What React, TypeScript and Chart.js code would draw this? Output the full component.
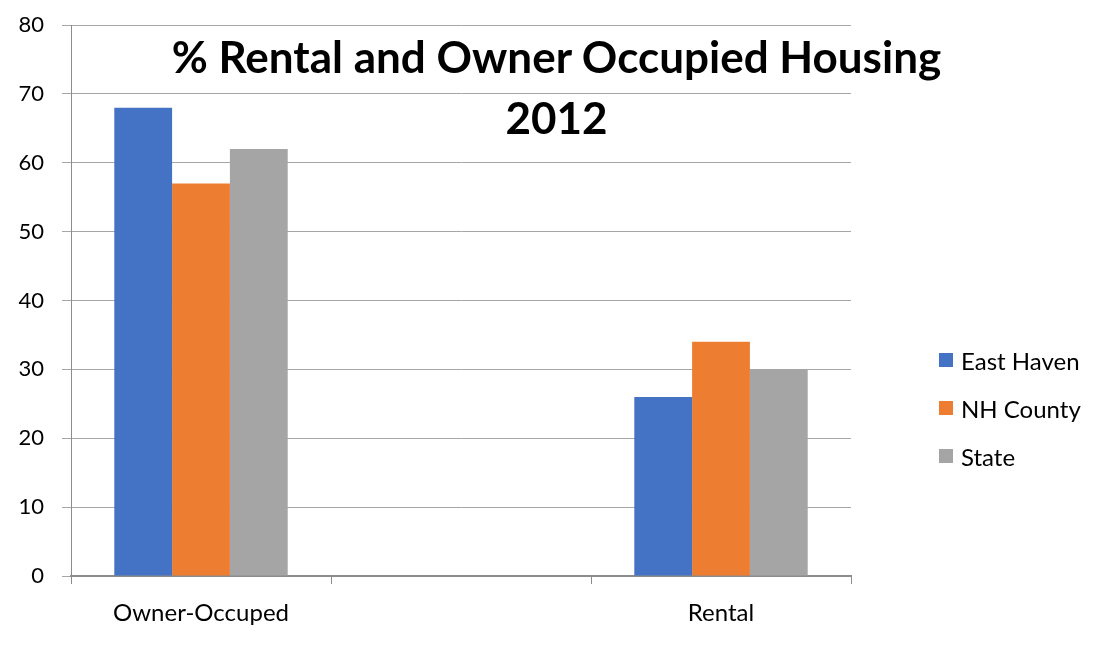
import React, { useEffect, useRef } from "react";
import { Chart, registerables } from "chart.js";

Chart.register(...registerables);

const titleLines = ["% Rental and Owner Occupied Housing", "2012"];
const categories = ["Owner-Occuped", "", "Rental"];
const seriesNames = ["East Haven", "NH County", "State"];
const eastHaven = [68, null, 26];
const nhCounty = [57, null, 34];
const stateVals = [62, null, 30];
const seriesColors = ["#4472C4", "#ED7D31", "#A5A5A5"];
const yTicks = [0, 10, 20, 30, 40, 50, 60, 70, 80];

const FONT = "Lato, 'Open Sans', sans-serif";

const frameBorder = {
  id: "frameBorder",
  beforeDraw(chart: any) {
    const c = chart.ctx;
    c.save();
    c.strokeStyle = "#b0b0b0";
    c.lineWidth = 1;
    c.beginPath();
    c.moveTo(0.5, chart.height);
    c.lineTo(0.5, 0.5);
    c.lineTo(chart.width, 0.5);
    c.stroke();
    c.restore();
  },
};

export default function App() {
  const canvasRef = useRef<HTMLCanvasElement | null>(null);

  useEffect(() => {
    document.documentElement.style.overflow = "hidden";
    document.body.style.overflow = "hidden";
    const ctx = canvasRef.current;
    if (!ctx) return;
    const values = [eastHaven, nhCounty, stateVals];
    const chart = new Chart(ctx, {
      type: "bar",
      data: {
        labels: categories,
        datasets: seriesNames.map((name, i) => ({
          label: name,
          data: values[i],
          backgroundColor: seriesColors[i],
          borderWidth: 0,
          categoryPercentage: 0.667,
          barPercentage: 1,
        })),
      },
      plugins: [frameBorder],
      options: {
        animation: false,
        responsive: false,
        maintainAspectRatio: false,
        layout: { padding: { left: 0, top: 19, right: 246, bottom: 31 } },
        plugins: {
          legend: { display: false },
          title: { display: false },
          tooltip: { enabled: false },
        },
        scales: {
          x: {
            grid: {
              drawOnChartArea: false,
              offset: true,
              tickLength: 8,
              color: "#8c8c8c",
              lineWidth: 1,
            },
            border: { color: "#8c8c8c", width: 2 },
            ticks: {
              color: "#000",
              font: { family: FONT, size: 24 },
              padding: 15,
              maxRotation: 0,
            },
            afterFit: (scale: any) => {
              scale.height = 60;
            },
          },
          y: {
            min: 0,
            max: 80,
            afterBuildTicks: (scale: any) => {
              scale.ticks = yTicks.map((v) => ({ value: v }));
            },
            grid: {
              color: "#a6a6a6",
              lineWidth: 1,
              tickLength: 9,
            },
            border: { color: "#8c8c8c", width: 1 },
            ticks: {
              color: "#000",
              font: { family: FONT, size: 22 },
              padding: 18,
            },
            afterFit: (scale: any) => {
              scale.width = 64;
              scale.paddingTop = 0;
              scale.paddingBottom = 0;
            },
          },
        },
      },
    });
    return () => chart.destroy();
  }, []);

  return (
    <div style={{ position: "relative", width: 1089, height: 651 }}>
      <canvas
        ref={canvasRef}
        width={1090}
        height={661}
        style={{ position: "absolute", left: -1, top: -2, width: 1090, height: 661 }}
      />
      <div
        style={{
          position: "absolute",
          left: 0,
          width: 1097,
          top: 18,
          textAlign: "center",
          fontFamily: FONT,
          fontWeight: 700,
          fontSize: 44,
          lineHeight: "61px",
          color: "#000",
          whiteSpace: "nowrap",
        }}
      >
        {titleLines.map((t, i) => (
          <div key={i}>{t}</div>
        ))}
      </div>
      <div
        style={{
          position: "absolute",
          left: 931,
          top: 328,
          fontFamily: FONT,
          fontSize: 24,
          color: "#000",
          whiteSpace: "nowrap",
        }}
      >
        {seriesNames.map((n, i) => (
          <div key={n} style={{ display: "flex", alignItems: "center", height: 48 }}>
            <span
              style={{
                display: "inline-block",
                width: 14,
                height: 14,
                background: seriesColors[i],
                marginRight: 8,
              }}
            />
            <span>{n}</span>
          </div>
        ))}
      </div>
    </div>
  );
}
